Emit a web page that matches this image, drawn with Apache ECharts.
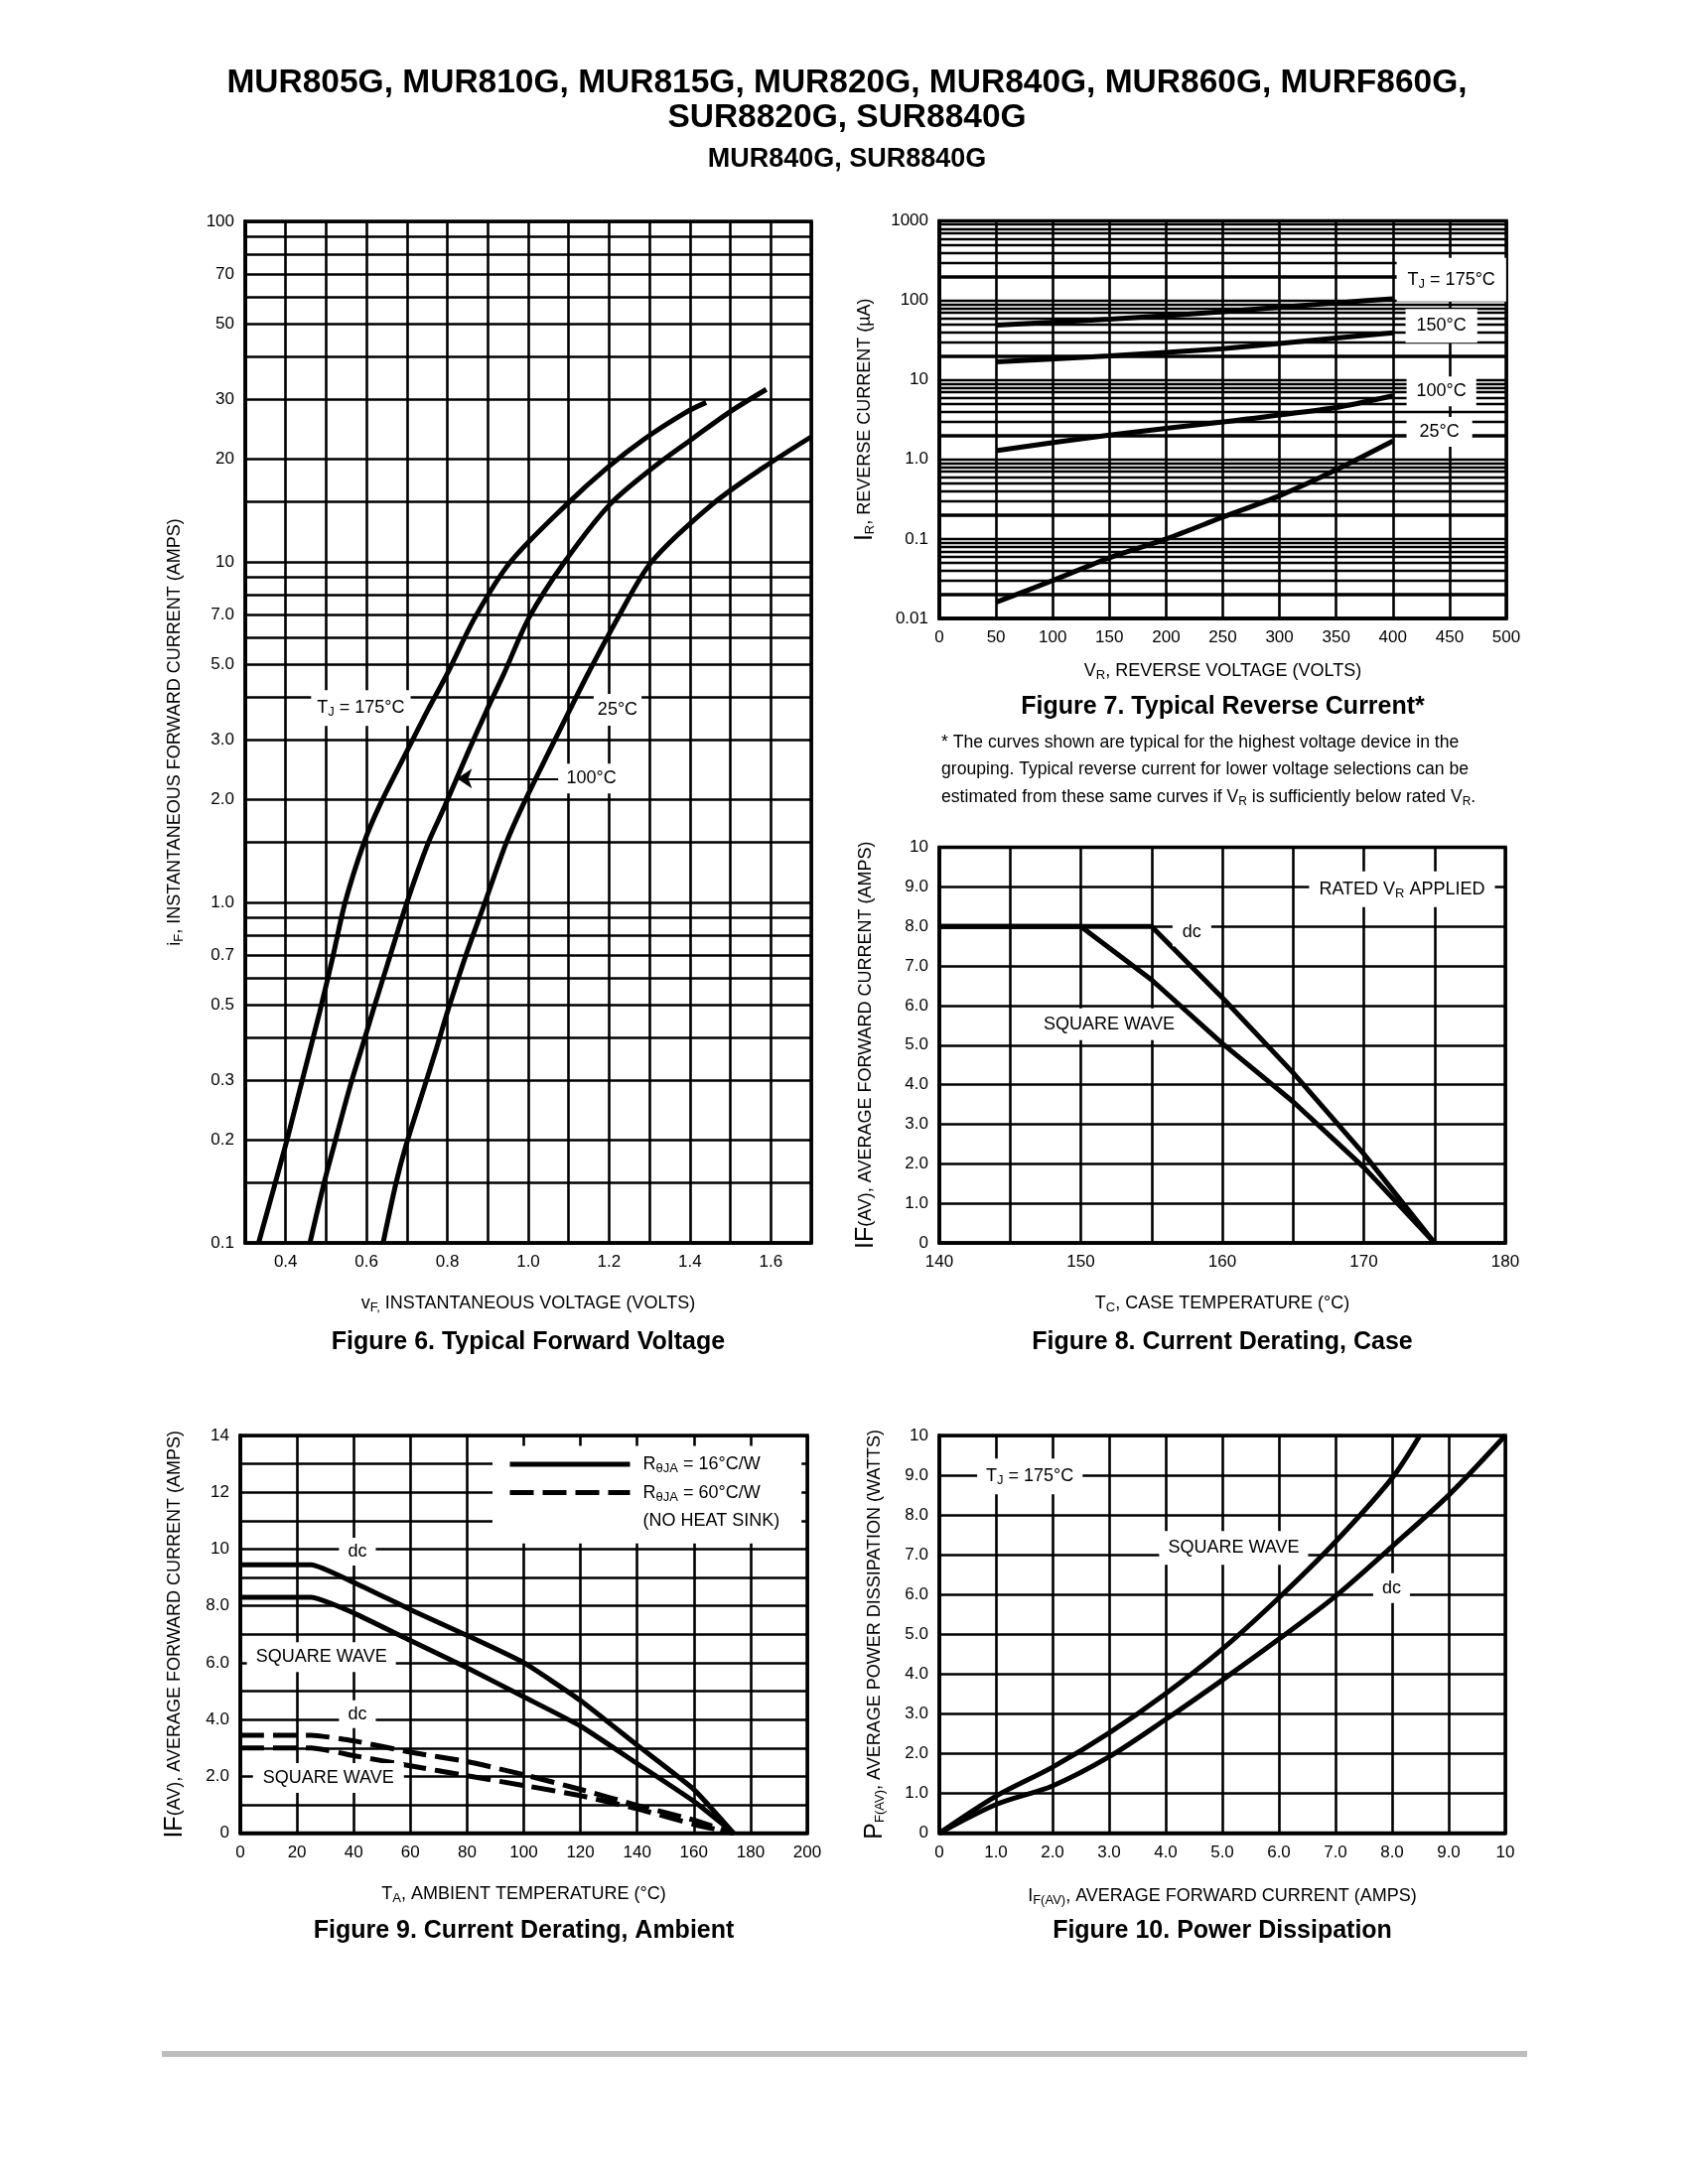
<!DOCTYPE html>
<html>
<head>
<meta charset="utf-8">
<script src="https://cdn.jsdelivr.net/npm/echarts@6/dist/echarts.min.js"></script>
<style>
html,body{margin:0;padding:0;background:#fff;}
#c{width:1700px;height:2200px;}
</style>
</head>
<body>
<div id="c"></div>
<script>
// ===================== DATA =====================
// Figure 6 – Typical Forward Voltage  [vF (V), iF (A)]
const fig6Tj175 = [[0.333,0.1],[0.40,0.194],[0.435,0.282],[0.484,0.476],[0.517,0.695],[0.547,1.0],[0.593,1.49],[0.631,1.91],[0.70,2.78],[0.752,3.68],[0.80,4.7],[0.868,6.86],[0.956,10],[1.095,14.75],[1.197,18.97],[1.288,23],[1.39,27.5],[1.44,29.4]];
const fig6Tj100 = [[0.46,0.1],[0.495,0.15],[0.52,0.194],[0.557,0.282],[0.588,0.373],[0.615,0.476],[0.658,0.695],[0.70,1.0],[0.752,1.49],[0.793,1.91],[0.852,2.78],[0.898,3.68],[0.94,4.7],[1.002,6.86],[1.09,10],[1.202,14.75],[1.31,18.97],[1.406,23],[1.497,27.5],[1.589,32.1]];
const fig6Tj25  = [[0.641,0.1],[0.673,0.15],[0.698,0.194],[0.741,0.282],[0.773,0.373],[0.80,0.476],[0.845,0.695],[0.893,1.0],[0.945,1.49],[0.985,1.91],[1.052,2.78],[1.103,3.68],[1.148,4.7],[1.222,6.86],[1.305,10],[1.455,14.75],[1.583,18.97],[1.70,23.3]];
const fig6GridValues = [0.1,0.15,0.2,0.3,0.4,0.5,0.6,0.7,0.8,0.9,1,1.5,2,3,4,5,6,7,8,9,10,15,20,30,40,50,60,70,80,90,100];
const fig6TickValues = [0.1,0.2,0.3,0.5,0.7,1,2,3,5,7,10,20,30,50,70,100];
const fig6TickLabels = ['0.1','0.2','0.3','0.5','0.7','1.0','2.0','3.0','5.0','7.0','10','20','30','50','70','100'];
const fig6XLabelValues = [0.4,0.6,0.8,1.0,1.2,1.4,1.6];
const fig6Notes = [[0.586,3.72,'T{s|J} = 175°C'],[1.221,3.68,'25°C'],[1.156,2.31,'100°C']];
const fig6Arrow = [[1.074,2.31],[0.824,2.31]];

// Figure 7 – Typical Reverse Current  [VR (V), IR (uA)]
const fig7Tj175 = [[50,49],[150,58],[250,72],[350,93],[400,105]];
const fig7Tj150 = [[50,16.9],[150,20],[250,24.7],[350,33.6],[400,39]];
const fig7Tj100 = [[50,1.29],[150,2.03],[250,2.96],[350,4.5],[400,6.3]];
const fig7Tj25  = [[50,0.016],[100,0.030],[150,0.058],[200,0.10],[250,0.188],[300,0.35],[350,0.74],[400,1.7]];
const fig7Decades = [0.01,0.1,1,10,100];
const fig7Multipliers = [1,2,3,4,5,6,7,8,9];
const fig7YLabels = ['0.01','0.1','1.0','10','100','1000'];
const fig7Notes = [[451.6,182,'T{s|J} = 175°C'],[442.8,47.7,'150°C'],[442.8,7.2,'100°C'],[441,2.22,'25°C']];

// Figure 8 – Current Derating, Case  [TC (°C), IF(AV) (A)]
const fig8Dc     = [[140,8],[155,8],[160,6.2],[165,4.3],[170,2.25],[175,0]];
const fig8Square = [[140,8],[150,8],[155,6.65],[160,5.04],[165,3.57],[170,1.91],[175,0]];
const fig8Notes = [[157.85,7.85,'dc'],[152.0,5.53,'SQUARE WAVE'],[172.7,8.94,'RATED V{s|R} APPLIED']];

// Figure 9 – Current Derating, Ambient  [TA (°C), IF(AV) (A)]
const fig9Dc16  = [[0,9.45],[25,9.45],[40,8.83],[60,7.87],[80,6.96],[100,6.0],[120,4.67],[140,3.1],[160,1.54],[174,0]];
const fig9Sq16  = [[0,8.3],[25,8.3],[40,7.75],[60,6.78],[80,5.82],[100,4.8],[120,3.77],[140,2.45],[160,1.12],[174,0]];
const fig9Dc60  = [[0,3.45],[25,3.45],[40,3.25],[60,2.85],[80,2.52],[100,2.06],[120,1.54],[140,0.98],[160,0.46],[174,0]];
const fig9Sq60  = [[0,3.0],[25,3.0],[40,2.73],[60,2.37],[80,2.02],[100,1.68],[120,1.32],[140,0.86],[160,0.31],[174,0]];
const fig9Notes = [[41.3,9.91,'dc'],[28.6,6.2,'SQUARE WAVE'],[41.3,4.19,'dc'],[31.1,1.94,'SQUARE WAVE']];
const fig9LegendNames = ['RθJA = 16°C/W','RθJA = 60°C/W','(NO HEAT SINK)'];
const fig9LegendText  = ['R{s|θJA} = 16°C/W','R{s|θJA} = 60°C/W','(NO HEAT SINK)'];

// Figure 10 – Power Dissipation  [IF(AV) (A), PF(AV) (W)]
const fig10Square = [[0,0],[1,0.93],[2,1.66],[3,2.52],[4,3.51],[5,4.63],[6,5.92],[7,7.33],[8,8.93],[8.49,10]];
const fig10Dc     = [[0,0],[1,0.72],[2,1.19],[3,1.92],[4,2.86],[5,3.85],[6,4.88],[7,5.96],[8,7.21],[9,8.5],[10,10]];
const fig10Notes = [[1.6,8.97,'T{s|J} = 175°C'],[5.2,7.17,'SQUARE WAVE'],[7.99,6.16,'dc']];

// ===================== STYLE / LAYOUT =====================
const FONT = "'Liberation Sans', Arial, Helvetica, sans-serif";
const K = '#000';
const GRID_W = 2.6;
const RICH = {
  s: {fontSize: 13, fontFamily: FONT, color: K, padding: [9,0,0,0]},
  b: {fontSize: 25, fontFamily: FONT, color: K}
};

function axis(gridIndex, o) {
  return Object.assign({
    gridIndex: gridIndex,
    nameLocation: 'middle',
    nameMoveOverlap: false,
    nameTextStyle: {color: K, fontSize: 18, fontFamily: FONT, rich: RICH},
    axisLine: {show: true, onZero: false, lineStyle: {color: K, width: 3.5}},
    axisTick: {show: false},
    axisLabel: Object.assign({color: K, fontSize: 17, fontFamily: FONT, margin: 11}, o.label || {}),
    splitLine: {show: o.split !== false, lineStyle: {color: K, width: GRID_W}},
    animation: false
  }, o.axis);
}
const fmt10 = v => v === 0 ? '0' : (v === 10 ? '10' : v.toFixed(1));

const grids = [
  {left: 247, top: 223, width: 570, height: 1029},
  {left: 946, top: 222.5, width: 571, height: 400.5},
  {left: 946, top: 853.5, width: 570, height: 398.5},
  {left: 242, top: 1446, width: 571, height: 400.6},
  {left: 946, top: 1446, width: 570, height: 400.6}
].map(g => Object.assign(g, {show: true, borderColor: K, borderWidth: 3.5, backgroundColor: 'rgba(0,0,0,0)', outerBoundsMode: 'none', containLabel: false}));

const xAxes = [
  axis(0, {axis: {type: 'value', min: 0.3, max: 1.7, interval: 0.1, name: 'v{s|F,} INSTANTANEOUS VOLTAGE (VOLTS)', nameGap: 50},
           label: {formatter: v => { const t = Math.round(v * 10); return fig6XLabelValues.some(x => Math.round(x * 10) === t) ? (t / 10).toFixed(1) : ''; }}}),
  axis(1, {axis: {type: 'value', min: 0, max: 500, interval: 50, name: 'V{s|R}, REVERSE VOLTAGE (VOLTS)', nameGap: 42}}),
  axis(2, {axis: {type: 'value', min: 140, max: 180, interval: 5, name: 'T{s|C}, CASE TEMPERATURE (°C)', nameGap: 50},
           label: {formatter: v => v % 10 === 0 ? String(v) : ''}}),
  axis(3, {axis: {type: 'value', min: 0, max: 200, interval: 20, name: 'T{s|A}, AMBIENT TEMPERATURE (°C)', nameGap: 50}}),
  axis(4, {axis: {type: 'value', min: 0, max: 10, interval: 1, name: 'I{s|F(AV)}, AVERAGE FORWARD CURRENT (AMPS)', nameGap: 52},
           label: {formatter: fmt10}})
];
const yAxes = [
  axis(0, {split: false, axis: {type: 'log', logBase: 10, min: 0.1, max: 100, name: 'i{s|F}, INSTANTANEOUS FORWARD CURRENT (AMPS)', nameGap: 60},
           label: {show: false}}),
  axis(1, {split: false, axis: {type: 'log', logBase: 10, min: 0.01, max: 1000, name: '{b|I}{s|R}, REVERSE CURRENT (µA)', nameGap: 62},
           label: {formatter: v => fig7YLabels[Math.round(Math.log10(v)) + 2] || ''}}),
  axis(2, {axis: {type: 'value', min: 0, max: 10, interval: 1, name: '{b|IF}(AV), AVERAGE FORWARD CURRENT (AMPS)', nameGap: 61},
           label: {formatter: fmt10}}),
  axis(3, {axis: {type: 'value', min: 0, max: 14, interval: 1, name: '{b|IF}(AV), AVERAGE FORWARD CURRENT (AMPS)', nameGap: 53},
           label: {formatter: v => v % 2 !== 0 ? '' : (v === 0 ? '0' : (v >= 10 ? String(v) : v.toFixed(1)))}}),
  axis(4, {axis: {type: 'value', min: 0, max: 10, interval: 1, name: '{b|P}{s|F(AV)}, AVERAGE POWER DISSIPATION (WATTS)', nameGap: 52},
           label: {formatter: fmt10}})
];

function curve(gi, data, name, extra) {
  return Object.assign({
    type: 'line', name: name, xAxisIndex: gi, yAxisIndex: gi, data: data,
    showSymbol: false, symbol: 'none', smooth: 0.3, z: 3, silent: true, animation: false,
    lineStyle: {color: K, width: 5}, itemStyle: {color: K, opacity: 0}
  }, extra || {});
}
function notes(gi, list, pads, extra) {
  return Object.assign({
    type: 'scatter', xAxisIndex: gi, yAxisIndex: gi, symbolSize: 0.1, z: 6, silent: true, animation: false,
    itemStyle: {color: '#fff', opacity: 1},
    label: {show: true, position: 'inside', color: K, opacity: 1, fontSize: 18, fontFamily: FONT,
            backgroundColor: '#fff', textBorderWidth: 0, rich: RICH},
    data: list.map((n, i) => ({value: [n[0], n[1]], label: {formatter: n[2], padding: pads[i]}}))
  }, extra || {});
}
function hLines(gi, items) {
  return {
    type: 'line', xAxisIndex: gi, yAxisIndex: gi, data: [], z: 1, silent: true, animation: false,
    markLine: {silent: true, animation: false, symbol: ['none', 'none'], precision: 6,
      lineStyle: {color: K, width: GRID_W, type: 'solid'}, label: {show: false}, emphasis: {disabled: true},
      data: items}
  };
}

// Figure 6 horizontal grid lines + tick labels
const fig6Lines = fig6GridValues.map(v => {
  const idx = fig6TickValues.indexOf(v);
  const item = {yAxis: v};
  if (idx >= 0) item.label = {show: true, position: 'start', formatter: fig6TickLabels[idx], distance: 11, color: K, fontSize: 17, fontFamily: FONT};
  return item;
});
// Figure 7 horizontal grid lines
const fig7Lines = [];
fig7Decades.forEach(d => fig7Multipliers.forEach(m => {
  fig7Lines.push({yAxis: +(m * d).toPrecision(3), lineStyle: {color: K, type: 'solid', width: m === 2 ? 3.6 : 2.3}});
}));

const DASH = [24, 9];
const series = [
  hLines(0, fig6Lines),
  hLines(1, fig7Lines),
  // Fig 6
  curve(0, fig6Tj175, 'TJ = 175°C'),
  curve(0, fig6Tj100, '100°C'),
  curve(0, fig6Tj25, '25°C'),
  notes(0, fig6Notes, [[7,6,7,6],[7,4,7,4],[6,5,6,5]], {
    markLine: {silent: true, animation: false, symbol: ['none', 'arrow'], symbolSize: 15,
      lineStyle: {color: K, width: 2, type: 'solid'}, label: {show: false},
      data: [[{coord: fig6Arrow[0]}, {coord: fig6Arrow[1]}]]}
  }),
  // Fig 7
  curve(1, fig7Tj175, 'TJ = 175°C ', {smooth: 0.2}),
  curve(1, fig7Tj150, '150°C ', {smooth: 0.2}),
  curve(1, fig7Tj100, '100°C ', {smooth: 0.2}),
  curve(1, fig7Tj25, '25°C ', {smooth: 0.3}),
  notes(1, fig7Notes, [[11,11,11,11],[8,11,8,11],[6,10,6,10],[6,13,6,13]]),
  // Fig 8
  curve(2, fig8Dc, 'dc', {smooth: false}),
  curve(2, fig8Square, 'SQUARE WAVE', {smooth: false}),
  notes(2, fig8Notes, [[5,10,5,10],[7,3,7,3],[7,10,7,10]]),
  // Fig 9
  curve(3, fig9Dc16, fig9LegendNames[0], {smooth: 0.15}),
  curve(3, fig9Sq16, fig9LegendNames[0], {smooth: 0.15}),
  curve(3, fig9Dc60, fig9LegendNames[1], {smooth: 0.15, lineStyle: {color: K, width: 5, type: DASH}}),
  curve(3, fig9Sq60, fig9LegendNames[1], {smooth: 0.15, lineStyle: {color: K, width: 5, type: DASH}}),
  {type: 'line', name: fig9LegendNames[2], xAxisIndex: 3, yAxisIndex: 3, data: [], symbol: 'none',
   lineStyle: {opacity: 0, width: 0}, itemStyle: {opacity: 0}, silent: true},
  notes(3, fig9Notes, [[5,9,5,9],[6,9,6,9],[5,9,5,9],[6,10,6,10]]),
  // Fig 10
  curve(4, fig10Square, 'SQUARE WAVE ', {smooth: 0.3}),
  curve(4, fig10Dc, 'dc ', {smooth: 0.3}),
  notes(4, fig10Notes, [[7,9,7,9],[8,9,8,9],[6,9,6,9]])
];

function txt(x, y, text, font, extra) {
  return {type: 'text', x: x, y: y, silent: true,
    style: Object.assign({text: text, font: font, fill: K, align: 'center', verticalAlign: 'middle',
      textAlign: 'center', textVerticalAlign: 'middle'}, extra || {})};
}
const TITLE_FONT = "bold 33.5px " + FONT;
const CAP_FONT = "bold 25px " + FONT;

const option = {
  animation: false,
  backgroundColor: '#fff',
  color: [K],
  grid: grids,
  xAxis: xAxes,
  yAxis: yAxes,
  legend: {
    data: fig9LegendNames,
    orient: 'vertical', left: 496, top: 1456.5,
    padding: [7.5, 22, 11.6, 15],
    backgroundColor: '#fff',
    itemWidth: 121, itemHeight: 22, itemGap: 6.6,
    selectedMode: false,
    lineStyle: {width: 5},
    formatter: name => fig9LegendText[fig9LegendNames.indexOf(name)],
    textStyle: {color: K, fontSize: 18, fontFamily: FONT, lineHeight: 22, padding: [0,0,0,8],
      rich: {s: {fontSize: 13, fontFamily: FONT, color: K, padding: [9,0,0,0]}}}
  },
  series: series,
  graphic: [
    txt(853, 84, 'MUR805G, MUR810G, MUR815G, MUR820G, MUR840G, MUR860G, MURF860G,', TITLE_FONT),
    txt(853, 119, 'SUR8820G, SUR8840G', TITLE_FONT),
    txt(853, 161, 'MUR840G, SUR8840G', 'bold 27px ' + FONT),
    txt(532, 1352, 'Figure 6. Typical Forward Voltage', CAP_FONT),
    txt(1231.5, 712, 'Figure 7. Typical Reverse Current*', CAP_FONT),
    txt(1231, 1352, 'Figure 8. Current Derating, Case', CAP_FONT),
    txt(527.5, 1945.5, 'Figure 9. Current Derating, Ambient', CAP_FONT),
    txt(1231, 1945.5, 'Figure 10. Power Dissipation', CAP_FONT),
    {type: 'text', x: 948, y: 734, silent: true,
     style: {text: '* The curves shown are typical for the highest voltage device in the\ngrouping. Typical reverse current for lower voltage selections can be\nestimated from these same curves if V{s|R} is sufficiently below rated V{s|R}.',
       font: '17.6px ' + FONT, fill: K, lineHeight: 27.7, align: 'left', verticalAlign: 'top', textAlign: 'left', textVerticalAlign: 'top',
       rich: {s: {fontSize: 12, fontFamily: FONT, fill: K, color: K, padding: [8,0,0,0], lineHeight: 27.7}}}},
    {type: 'rect', silent: true, shape: {x: 163, y: 2066, width: 1375, height: 6}, style: {fill: '#bdbdbd'}}
  ]
};

const chart = echarts.init(document.getElementById('c'), null, {renderer: 'canvas', width: 1700, height: 2200});
chart.setOption(option);
</script>
</body>
</html>
